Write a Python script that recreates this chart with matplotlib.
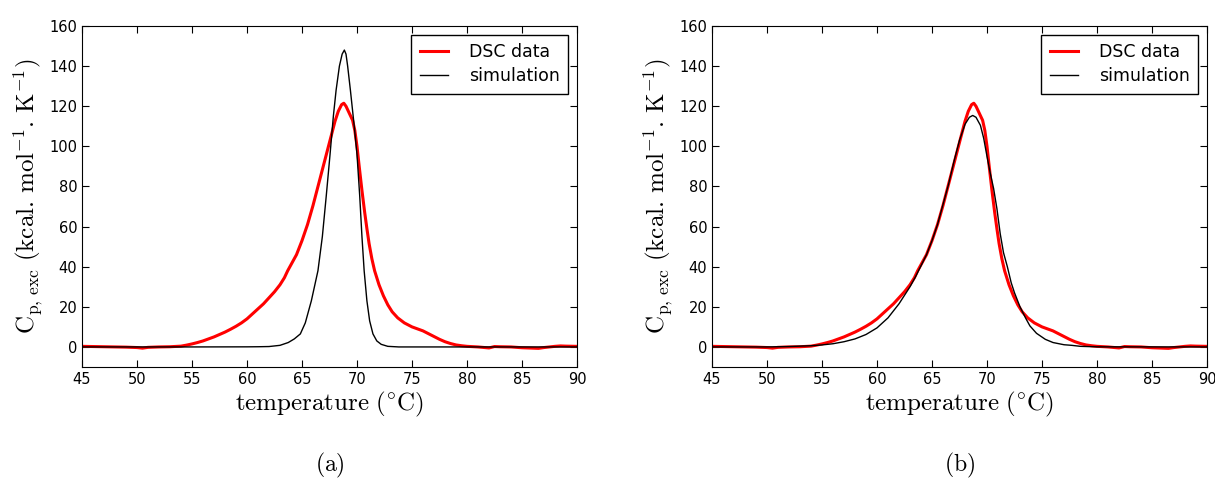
import matplotlib
matplotlib.use('Agg')
import matplotlib.pyplot as plt

plt.rcParams.update({
    'font.family': 'DejaVu Sans',
    'mathtext.fontset': 'cm',
    'xtick.direction': 'in',
    'ytick.direction': 'in',
    'xtick.top': True,
    'ytick.right': True,
    'xtick.major.size': 5,
    'ytick.major.size': 5,
    'font.size': 10.5,
})

# measured DSC curve (same in both panels)
dsc_t = [45, 46, 47, 48, 49, 50, 50.5, 51, 52, 53, 54, 54.5, 55, 55.5, 56, 56.5,
         57, 57.5, 58, 58.5, 59, 59.5, 60, 60.5, 61, 61.5, 62, 62.5, 63, 63.4,
         63.7, 64, 64.5, 65, 65.5, 66, 66.5, 67, 67.5, 68, 68.3, 68.6, 68.8, 69.0,
         69.3, 69.6, 69.8, 70.0, 70.2, 70.45, 70.7, 70.9, 71.1, 71.35, 71.6, 72.0,
         72.4, 72.8, 73.2, 73.7, 74.3, 75.0, 75.5, 76.0, 76.5, 77.0, 77.5, 78.0,
         78.5, 79.0, 79.5, 80, 81, 82, 82.5, 83, 84, 85, 86, 86.5, 87, 88, 88.5,
         89, 90]
dsc_cp = [0.3, 0.2, 0.1, 0.0, -0.1, -0.3, -0.6, -0.2, 0.0, 0.1, 0.4, 0.9, 1.5, 2.2,
          3.0, 4.0, 5.0, 6.2, 7.4, 8.8, 10.3, 12.0, 14.0, 16.5, 19.0, 21.5, 24.5,
          27.5, 31.0, 34.5, 38.0, 41.0, 46.0, 53.0, 61.0, 70.5, 81.0, 91.5, 102.0,
          112.5, 117.5, 120.8, 121.5, 120.0, 116.5, 113.0, 108.0, 100.0, 90.0,
          78.0, 67.0, 59.0, 51.5, 44.0, 38.0, 31.0, 25.5, 21.0, 17.5, 14.5, 12.0,
          10.0, 9.0, 8.0, 6.6, 5.2, 3.8, 2.6, 1.7, 1.0, 0.6, 0.3, 0.0, -0.5, 0.2,
          0.1, 0.0, -0.4, -0.6, -0.7, -0.3, 0.3, 0.5, 0.4, 0.3]

# simulation, panel (a)
sim_a_t = [45, 55, 60, 61, 62, 63, 63.75, 64.3, 64.85, 65.3, 65.85, 66.45, 66.85,
           67.2, 67.55, 67.85, 68.1, 68.4, 68.65, 68.85, 69.0, 69.15, 69.4, 69.75,
           70.0, 70.25, 70.45, 70.65, 70.9, 71.15, 71.45, 71.8, 72.2, 72.8, 73.8, 90]
sim_a_cp = [0, 0, 0.05, 0.1, 0.2, 0.8, 2.2, 4.0, 6.5, 12.0, 23.0, 38.0, 55.0, 75.0,
            96.0, 115.0, 128.0, 140.0, 146.0, 148.0, 146.0, 140.0, 128.0, 110.0,
            96.0, 75.0, 55.0, 38.0, 23.0, 13.0, 6.5, 3.0, 1.3, 0.3, 0.0, 0]

# simulation, panel (b)
sim_b_t = [45, 50, 52, 54, 55, 56, 57, 58, 59, 60, 61, 62, 63, 63.5, 64, 64.5, 65,
           65.5, 66, 66.5, 67, 67.5, 68, 68.4, 68.7, 69.0, 69.4, 69.7, 70.0, 70.3,
           70.6, 70.9, 71.2, 71.5, 71.85, 72.2, 72.5, 73.0, 73.5, 73.9, 74.5, 75.3,
           76, 77, 77.7, 78.5, 80, 90]
sim_b_cp = [0, 0, 0.2, 0.6, 1.0, 1.6, 2.6, 4.0, 6.2, 9.5, 14.5, 21.5, 30.0, 35.0,
            40.5, 46.0, 53.0, 61.0, 71.0, 81.0, 92.5, 103.0, 111.0, 114.5, 115.4,
            114.5, 110.5, 104.0, 95.0, 86.5, 79.0, 69.0, 56.5, 47.0, 40.0, 32.0,
            27.0, 20.0, 14.5, 10.5, 6.8, 3.8, 2.2, 1.1, 0.8, 0.3, 0.05, 0]

panels = [('(a)', sim_a_t, sim_a_cp), ('(b)', sim_b_t, sim_b_cp)]
lefts = [82 / 1215, 712 / 1215]

fig = plt.figure(figsize=(12.15, 4.78), dpi=100)
for (tag, st, sc), left in zip(panels, lefts):
    ax = fig.add_axes([left, 1 - 367 / 478, 495 / 1215, 341 / 478])
    ax.plot(dsc_t, dsc_cp, color='red', lw=2.2, label='DSC data')
    ax.plot(st, sc, color='black', lw=1, label='simulation')
    ax.set_xlim(45, 90)
    ax.set_ylim(-10, 160)
    ax.set_xticks(range(45, 91, 5))
    ax.set_yticks(range(0, 161, 20))
    ax.set_xlabel(r'$\mathrm{temperature\ (^{\circ}C)}$', fontsize=18, labelpad=2)
    ax.set_ylabel(r'$\mathrm{C_{p,\,exc}\ (kcal.\,mol^{-1}.\,K^{-1})}$', fontsize=18,
                  labelpad=3)
    leg = ax.legend(loc='upper right', fancybox=False, edgecolor='black',
                    framealpha=1, handlelength=1.6, handletextpad=1.2,
                    labelspacing=0.35, borderpad=0.5, borderaxespad=0.5,
                    fontsize=12.5)
    leg.get_frame().set_linewidth(1)
    fig.text(left + 495 / 1215 / 2, 1 - 465 / 478, r'$\mathrm{%s}$' % tag,
             ha='center', va='center', fontsize=17)

fig.savefig('out.png', dpi=100)
